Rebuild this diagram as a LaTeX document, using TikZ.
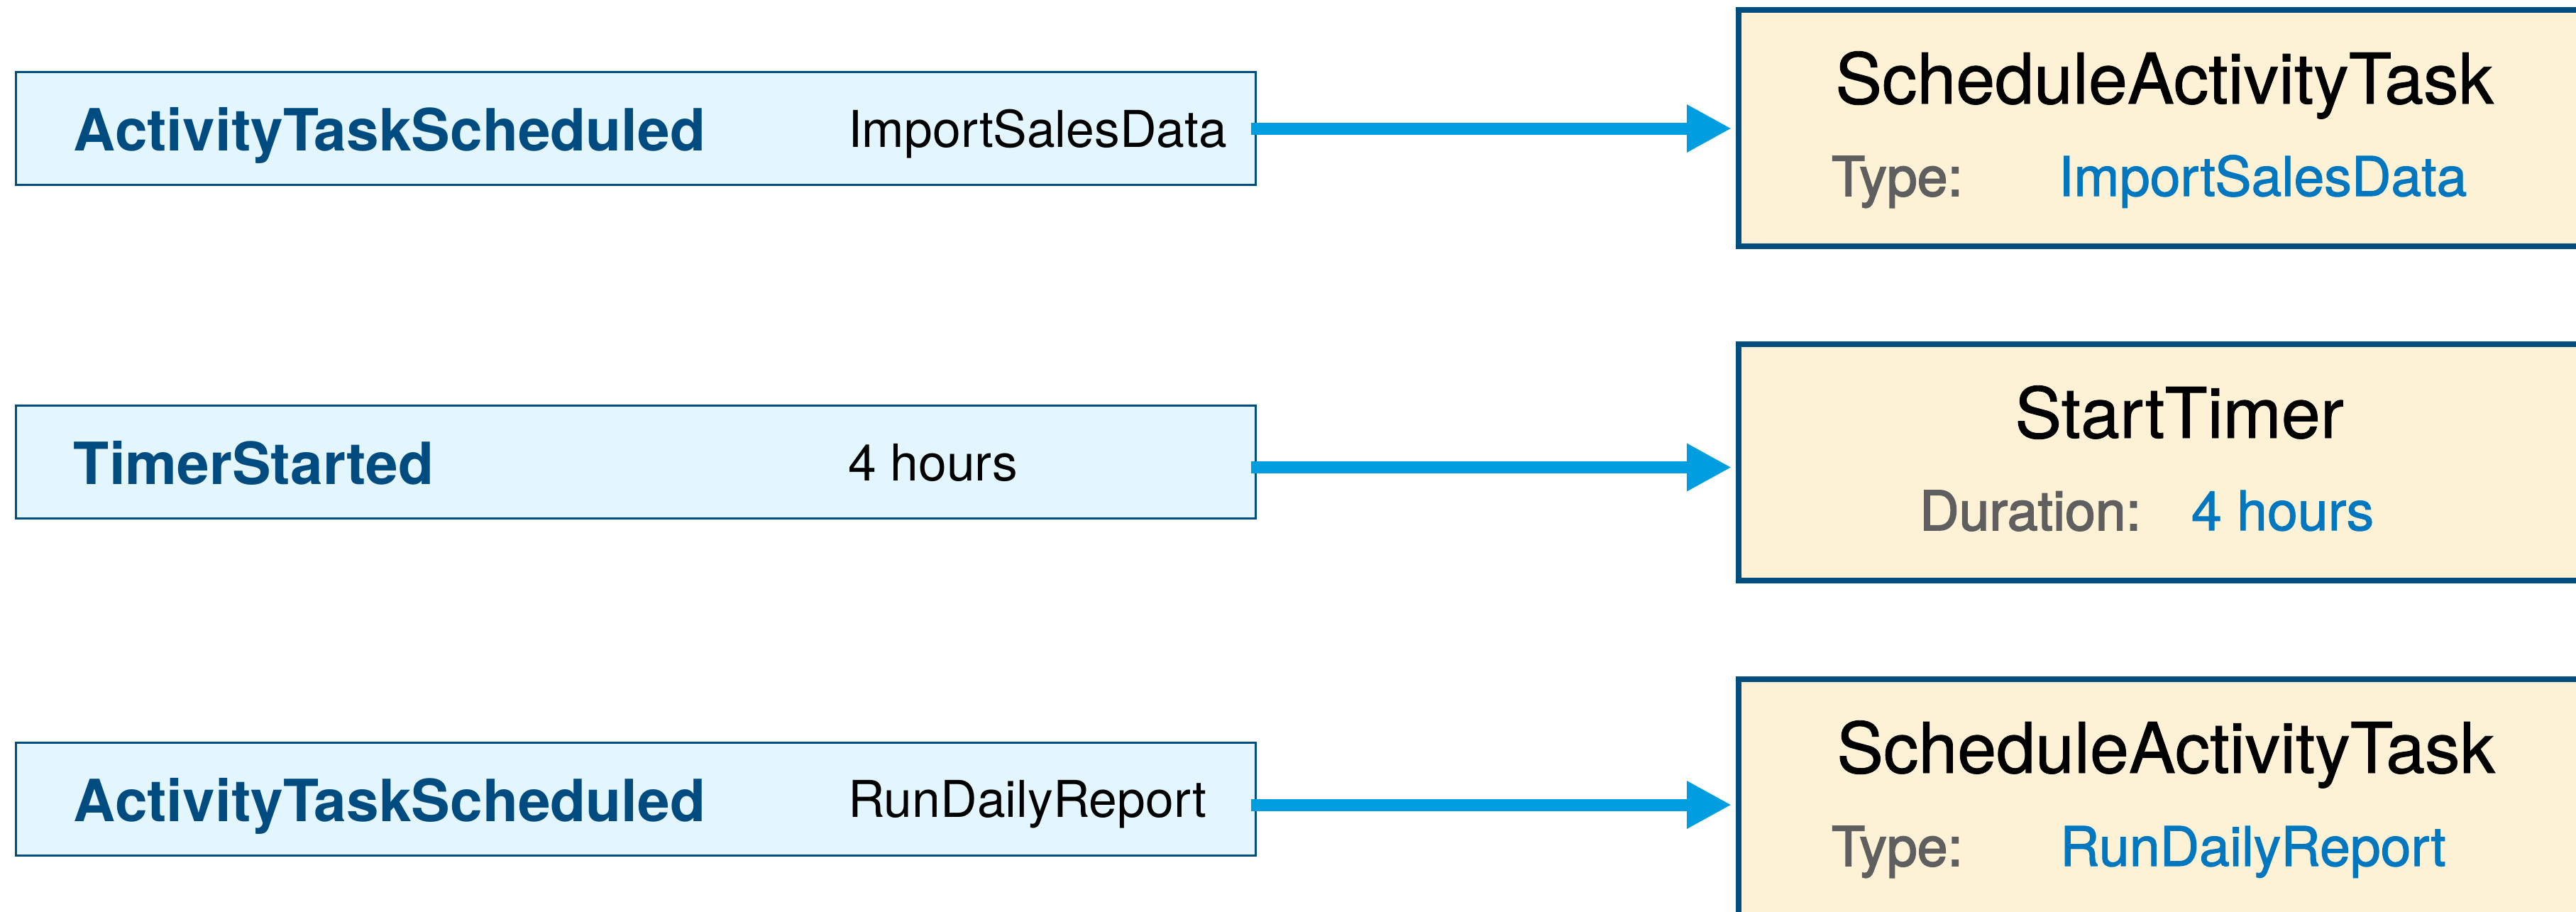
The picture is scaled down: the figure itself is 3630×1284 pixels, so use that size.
\documentclass[tikz,border=0pt]{standalone}
\usepackage{fontspec}
\setmainfont{TeX Gyre Heros}
\newfontfamily\titlemedium{TeX Gyre Heros}[FakeBold=0.9]
\newfontfamily\valmedium{TeX Gyre Heros}[FakeBold=1.4]
\newfontfamily\keymedium{TeX Gyre Heros}[FakeBold=2.2]
\usetikzlibrary{arrows.meta}
\definecolor{evborder}{HTML}{004E80}
\definecolor{evfill}{HTML}{E3F6FD}
\definecolor{evtext}{HTML}{004B7F}
\definecolor{decfill}{HTML}{FDF1D6}
\definecolor{arrowblue}{HTML}{009DE0}
\definecolor{keygrey}{HTML}{5F5F5F}
\definecolor{valblue}{HTML}{0077BE}
\begin{document}
\begin{tikzpicture}[x=0.2pt,y=-0.2pt,
  evbox/.style={rectangle, draw=evborder, fill=evfill, line width=0.6pt,
    minimum width=349.4pt, minimum height=31.8pt, inner sep=0pt, outer sep=0pt},
  decbox/.style={rectangle, draw=evborder, fill=decfill, line width=1.6pt,
    minimum width=246pt, minimum height=66.7pt, inner sep=0pt, outer sep=0pt},
  evname/.style={anchor=base west, inner sep=0pt, text=evtext,
    font=\fontsize{16.4pt}{19pt}\selectfont\bfseries},
  evarg/.style={anchor=base west, inner sep=0pt, text=black,
    font=\fontsize{14.3pt}{17pt}\selectfont},
  dectitle/.style={anchor=base, inner sep=0pt, text=black,
    font=\fontsize{19.75pt}{23pt}\titlemedium},
  deckey/.style={anchor=base west, inner sep=0pt, text=keygrey,
    font=\fontsize{15.4pt}{18pt}\keymedium},
  decval/.style={anchor=base west, inner sep=0pt, text=valblue,
    font=\fontsize{15.4pt}{18pt}\valmedium},
  flow/.style={draw=arrowblue, line width=3.4pt,
    -{Triangle[length=12.6pt,width=12.6pt]}, shorten >=2pt}
]
\useasboundingbox (0,0) rectangle (3630,1284);
\clip (0,0) rectangle (3630,1284);

% event boxes (left)
\node[evbox] (L1) at (896,181) {};
\node[evbox] (L2) at (896,650.5) {};
\node[evbox] (L3) at (896,1125.5) {};
\node[evname] (L1n) at (103,212) {ActivityTaskScheduled};
\node[evarg]  (L1a) at (1194,207) {ImportSalesData};
\node[evname] (L2n) at (103,682) {TimerStarted};
\node[evarg]  (L2a) at (1194,677) {4 hours};
\node[evname] (L3n) at (103,1157) {ActivityTaskScheduled};
\node[evarg]  (L3a) at (1194,1151) {RunDailyReport};

% decision boxes (right)
\node[decbox] (R1) at (3065,180.25) {};
\node[decbox] (R2) at (3065,651.5) {};
\node[decbox] (R3) at (3065,1123.75) {};
\node[dectitle] (R1t) at (3050,146) {ScheduleActivityTask};
\node[deckey]   (R1k) at (2580,276) {Type:};
\node[decval]   (R1v) at (2900,276) {ImportSalesData};
\node[dectitle] (R2t) at (3071,617) {StartTimer};
\node[deckey]   (R2k) at (2704,747) {Duration:};
\node[decval]   (R2v) at (3087,747) {4 hours};
\node[dectitle] (R3t) at (3052,1089) {ScheduleActivityTask};
\node[deckey]   (R3k) at (2580,1220) {Type:};
\node[decval]   (R3v) at (2902,1220) {RunDailyReport};

% arrows
\coordinate (s1) at ([xshift=-1.3pt]L1.east);
\coordinate (s2) at ([xshift=-1.3pt,yshift=-1.6pt]L2.east);
\coordinate (s3) at ([xshift=-1.3pt,yshift=-1.7pt]L3.east);
\draw[flow] (s1) -- (s1 -| R1.west);
\draw[flow] (s2) -- (s2 -| R2.west);
\draw[flow] (s3) -- (s3 -| R3.west);
\end{tikzpicture}
\end{document}
